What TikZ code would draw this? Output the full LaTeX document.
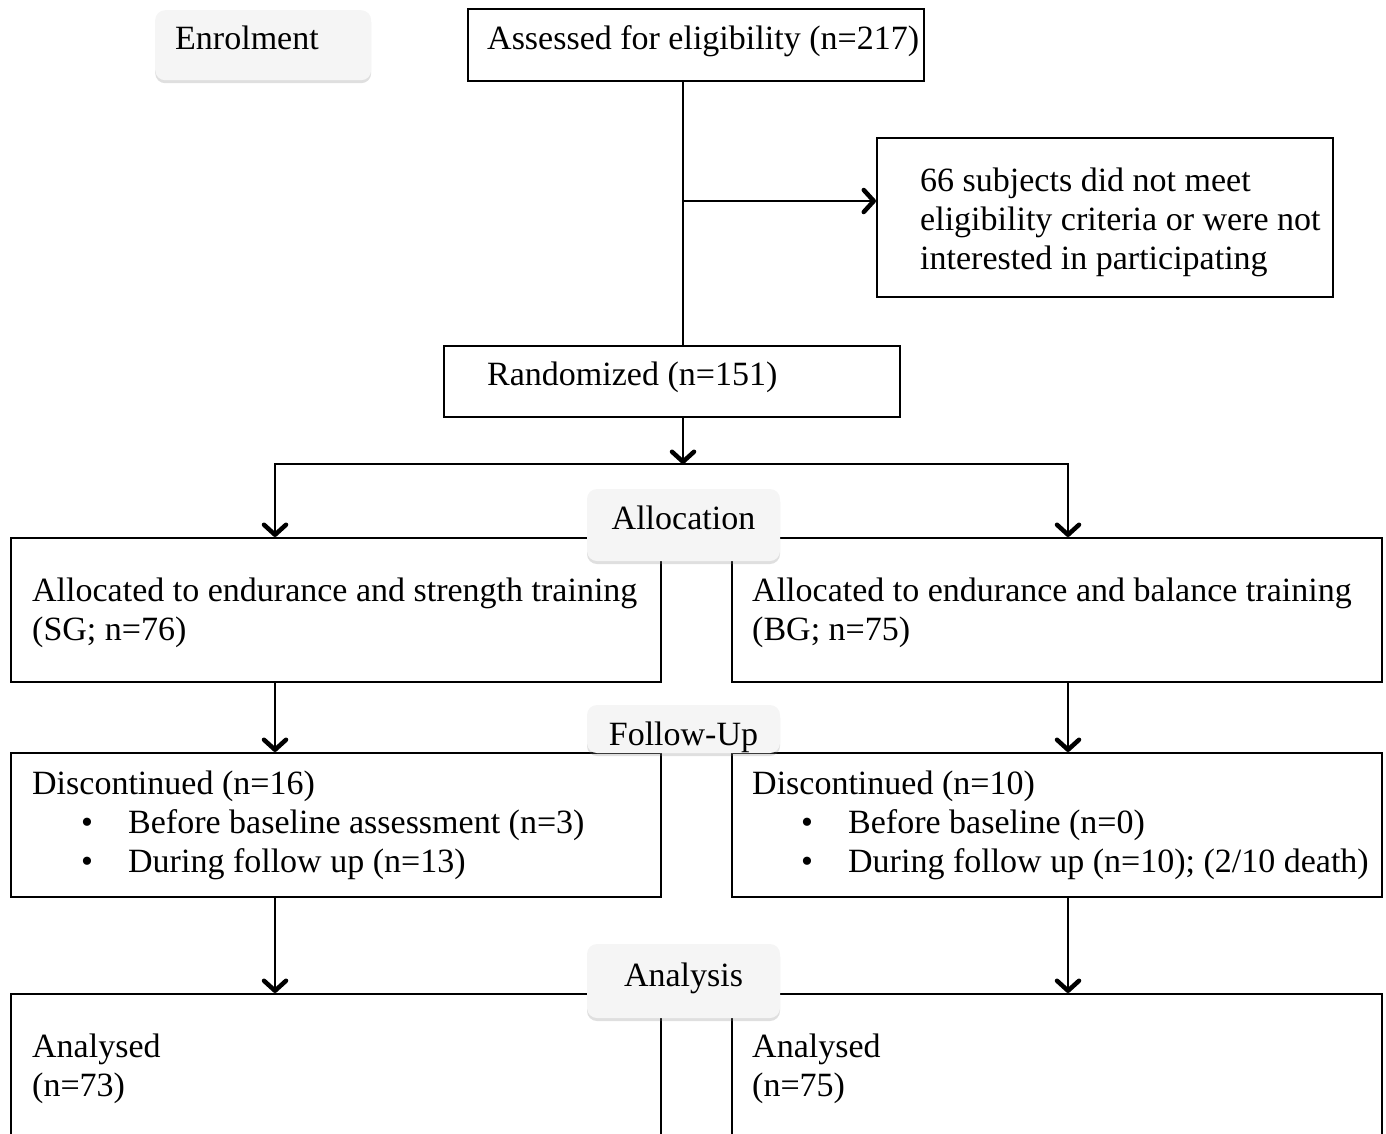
\documentclass[tikz,border=0pt]{standalone}
\usepackage{fontspec}
\setmainfont{Liberation Serif}
\usetikzlibrary{arrows.meta,positioning,shadows}
\definecolor{ink}{HTML}{000000}
\definecolor{panel}{HTML}{F5F5F5}
\tikzset{
  box/.style={draw=ink,fill=white,line width=1.8pt,anchor=north west,inner sep=0pt,
              drop shadow={shadow xshift=1.5pt,shadow yshift=-1.5pt,opacity=0.2}},
  txt/.style={align=left,text=ink,inner sep=0pt,font=\fontsize{34}{39}\selectfont},
  phase/.style={rounded corners=10pt,fill=panel,minimum width=193pt,text=ink,
                text height=24pt,text depth=7pt,
                font=\fontsize{34}{39}\selectfont,
                drop shadow={shadow xshift=0pt,shadow yshift=-3pt,opacity=0.25}},
  dataflow/.style={-{Straight Barb[length=10pt,width=22pt,line width'=4.5pt,round]},line width=1.8pt,draw=ink},
  link/.style={line width=1.8pt,draw=ink}
}
\newcommand{\bul}{\hspace*{49pt}\makebox[47pt][l]{\textbullet}}

\begin{document}
\begin{tikzpicture}[x=1pt,y=1pt]
  \useasboundingbox (0,0) rectangle (1386,-1133);
  \clip (0,0) rectangle (1386,-1133);
  % boxes
  \node[box,minimum width=456pt,minimum height=72pt] (assess) at (467,-8) {};
  \node[box,minimum width=456pt,minimum height=159pt] (excl) at (876,-137) {};
  \node[box,minimum width=456pt,minimum height=71pt] (rand) at (443,-345) {};
  \node[box,minimum width=650pt,minimum height=144pt] (sg) at (10,-537) {};
  \node[box,minimum width=650pt,minimum height=144pt] (bg) at (731,-537) {};
  \node[box,minimum width=650pt,minimum height=144pt] (sgdisc) at (10,-752) {};
  \node[box,minimum width=650pt,minimum height=144pt] (bgdisc) at (731,-752) {};
  \node[box,minimum width=650pt,minimum height=144pt] (sgana) at (10,-993) {};
  \node[box,minimum width=650pt,minimum height=144pt] (bgana) at (731,-993) {};
  % texts
  \node[txt,right=20pt of assess.west,yshift=4pt] (assesstxt) {Assessed for eligibility (n=217)};
  \node[txt,right=44pt of excl.west,yshift=-5pt] (excltxt) {66 subjects did not meet\\eligibility criteria or were not\\interested in participating};
  \node[txt,right=44pt of rand.west,yshift=4pt] (randtxt) {Randomized (n=151)};
  \node[txt,right=22pt of sg.west,yshift=-3pt] (sgtxt) {Allocated to endurance and strength training\\(SG; n=76)};
  \node[txt,right=21pt of bg.west,yshift=-3pt] (bgtxt) {Allocated to endurance and balance training\\(BG; n=75)};
  \node[txt,right=22pt of sgdisc.west] (sgdisctxt) {Discontinued (n=16)\\\bul Before baseline assessment (n=3)\\\bul During follow up (n=13)};
  \node[txt,right=21pt of bgdisc.west] (bgdisctxt) {Discontinued (n=10)\\\bul Before baseline (n=0)\\\bul During follow up (n=10); (2/10 death)};
  \node[txt,right=22pt of sgana.west,yshift=-3pt] (sganatxt) {Analysed\\(n=73)};
  \node[txt,right=21pt of bgana.west,yshift=-3pt] (bganatxt) {Analysed\\(n=75)};
  % connectors
  \coordinate (split) at (683,-201);
  \coordinate (fork) at (683,-464);
  \coordinate (forkL) at (275,-464);
  \coordinate (forkR) at (1068,-464);
  \draw[link] (assess.south -| split) -- (rand.north -| split);
  \draw[dataflow] (split) -- (split -| excl.west);
  \draw[dataflow] (rand.south -| fork) -- (fork);
  \draw[dataflow] (fork) -- (forkL) -- (forkL |- sg.north);
  \draw[dataflow] (fork) -- (forkR) -- (forkR |- bg.north);
  \draw[dataflow] (sg.south -| forkL) -- (sgdisc.north -| forkL);
  \draw[dataflow] (bg.south -| forkR) -- (bgdisc.north -| forkR);
  \draw[dataflow] (sgdisc.south -| forkL) -- (sgana.north -| forkL);
  \draw[dataflow] (bgdisc.south -| forkR) -- (bgana.north -| forkR);
  % phase labels
  \node[phase,anchor=north west,minimum width=216pt,minimum height=70pt,text width=176pt,align=left] (enrol) at (155,-10) {\raisebox{4pt}{Enrolment}};
  \node[phase,minimum height=72pt] (alloc) at (683.5,-525) {\raisebox{4pt}{Allocation}};
  \node[phase,minimum height=48pt] (follow) at (683.5,-729) {\raisebox{-8pt}{Follow-Up}};
  \node[phase,minimum height=74pt] (analysis) at (683.5,-981) {\raisebox{3pt}{Analysis}};
\end{tikzpicture}
\end{document}
